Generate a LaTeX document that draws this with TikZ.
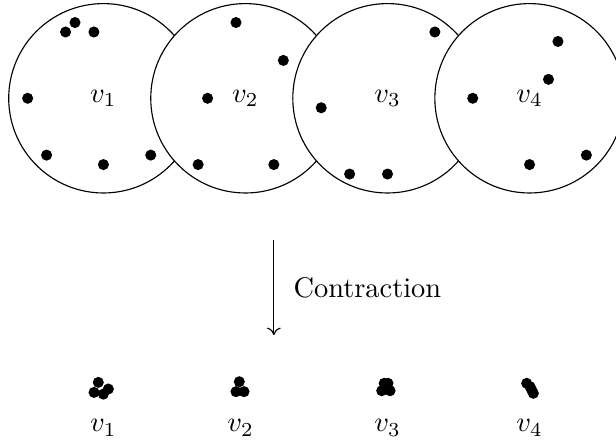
\documentclass[tikz,border=0pt]{standalone}
\usetikzlibrary{arrows.meta}
\begin{document}
\begin{tikzpicture}[x=3.335pt,y=3.335pt,
  bigset/.style={draw, fill=white, circle, inner sep=0pt, minimum size=66.7pt},
  lab/.style={inner sep=0pt},
  dotmark/.style={circle, fill=black, inner sep=0pt, minimum size=3.9pt}]
\clip (-10.92,-36.29) rectangle (54.13,10.38);
\useasboundingbox (-10.92,-36.29) rectangle (54.13,10.38);
% circle 1 and its dots
\node[bigset] (c1) at (0,0)  {$v_1$};
\foreach \x/\y in {-3/8,-4/7,-1/7,-8/0,-6/-6,0/-7,5/-6}
  \node[dotmark] at (\x,\y) {};
% circle 2 and its dots
\node[bigset] (c2) at (15,0) {$v_2$};
\foreach \x/\y in {-1/8,4/4,-4/0,-5/-7,3/-7}
  \node[dotmark] at (15+\x,\y) {};
% circle 3 and its dots
\node[bigset] (c3) at (30,0) {$v_3$};
\foreach \x/\y in {5/7,-7/-1,-4/-8,0/-8}
  \node[dotmark] at (30+\x,\y) {};
% circle 4 and its dots
\node[bigset] (c4) at (45,0) {$v_4$};
\foreach \x/\y in {3/6,2/2,-6/0,0/-7,6/-6}
  \node[dotmark] at (45+\x,\y) {};
% contraction arrow
\coordinate (atop) at (18,-15);
\coordinate (abot) at (18,-25);
\draw[-{To[length=2.6pt,width=4.8pt]}] (atop) -- (abot) node[midway, right=3.4pt] (ctext) {Contraction};
% contracted clusters
\foreach \x/\y in {-0.54/-30.0,-0.99/-31.06,-0.01/-31.24,0.52/-30.7}
  \node[dotmark] at (\x,\y) {};
\foreach \x/\y in {14.35/-29.93,14.0/-30.98,14.85/-30.98}
  \node[dotmark] at (\x,\y) {};
\foreach \x/\y in {29.65/-30.1,30.05/-30.1,29.39/-30.88,30.27/-30.88}
  \node[dotmark] at (\x,\y) {};
\foreach \x/\y in {44.70/-30.1,45.05/-30.45,45.23/-30.8,45.40/-31.15}
  \node[dotmark] at (\x,\y) {};
% labels
\node[lab] (l1) at (0,-34.8)  {$v_1$};
\node[lab] (l2) at (14.5,-34.8) {$v_2$};
\node[lab] (l3) at (30,-34.8) {$v_3$};
\node[lab] (l4) at (45,-34.8) {$v_4$};
\end{tikzpicture}
\end{document}
